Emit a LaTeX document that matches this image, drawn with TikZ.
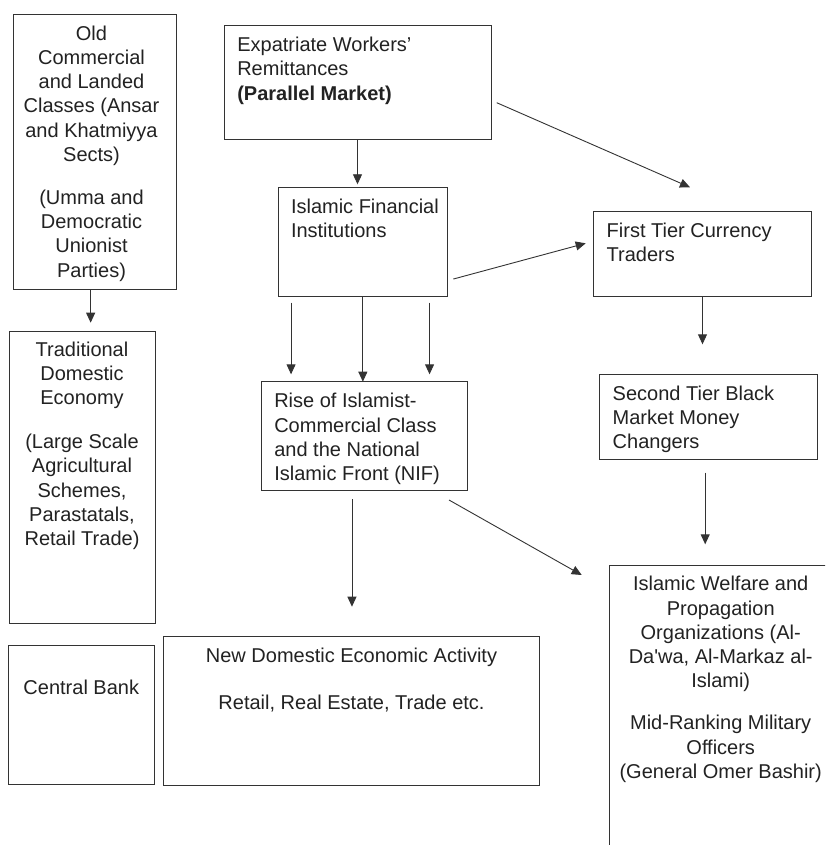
\documentclass[tikz,border=0pt]{standalone}
\usepackage{fontspec}
\setmainfont{Liberation Sans}
\usetikzlibrary{arrows.meta}
\definecolor{ink}{HTML}{222222}
\definecolor{edge}{HTML}{333333}
\tikzset{
  box/.style={draw=edge, line width=1pt, inner sep=0pt, outer sep=0pt, anchor=north west},
  txt/.style={inner sep=0pt, outer sep=0pt, text=ink, font={\fontsize{20}{24.3}\selectfont}},
  arr/.style={draw=edge, line width=0.9pt, -{Triangle[length=10pt,width=9pt]}},
}
\newcommand{\fs}{\rule{0pt}{15pt}}
\begin{document}
\begin{tikzpicture}[x=1pt,y=-1pt]
\useasboundingbox (0,0) rectangle (825,845);
\clip (0,0) rectangle (825,845);
\fill[white] (0,0) rectangle (825,845);

% boxes
\node[box, minimum width=162.7pt, minimum height=274.7pt] (old) at (13.3,14.3) {};
\node[box, minimum width=267pt, minimum height=114.4pt] (exp) at (224,25.3) {};
\node[box, minimum width=169.7pt, minimum height=108.7pt] (ifi) at (278,187.3) {};
\node[box, minimum width=218.4pt, minimum height=85pt] (ft) at (593.3,211.7) {};
\node[box, minimum width=146pt, minimum height=292.3pt] (trad) at (9.3,331) {};
\node[box, minimum width=206.3pt, minimum height=108.3pt] (rise) at (261,381.7) {};
\node[box, minimum width=218.4pt, minimum height=84.6pt] (st) at (599.3,374.7) {};
\node[box, minimum width=223pt, minimum height=300pt] (wel) at (609,565) {};
\node[box, minimum width=145.6pt, minimum height=139pt] (cb) at (8.7,645) {};
\node[box, minimum width=375.6pt, minimum height=149pt] (nd) at (163.7,636) {};

% texts
\node[txt, anchor=north, align=center] (oldt) at (91.5,25) {\fs Old\\Commercial\\and Landed\\Classes (Ansar\\and Khatmiyya\\Sects)\\[18.5pt](Umma and\\Democratic\\Unionist\\Parties)};
\node[txt, anchor=north west, align=left] (expt) at (237.3,36.6) {\fs Expatriate Workers'\\Remittances\\\textbf{(Parallel Market)}};
\node[txt, anchor=north west, align=left] (ifit) at (291,198.3) {\fs Islamic Financial\\Institutions};
\node[txt, anchor=north west, align=left] (ftt) at (606.7,222.3) {\fs First Tier Currency\\Traders};
\node[txt, anchor=north, align=center] (tradt) at (82,341) {\fs Traditional\\Domestic\\Economy\\[19.5pt](Large Scale\\Agricultural\\Schemes,\\Parastatals,\\Retail Trade)};
\node[txt, anchor=north west, align=left] (riset) at (274.3,392.7) {\fs Rise of Islamist-\\Commercial Class\\and the National\\Islamic Front (NIF)};
\node[txt, anchor=north west, align=left] (stt) at (612.7,385) {\fs Second Tier Black\\Market Money\\Changers};
\node[txt, anchor=north, align=center] (welt) at (720.7,575.7) {\fs Islamic Welfare and\\Propagation\\Organizations (Al-\\Da\textquotesingle wa, Al-Markaz al-\\Islami)\\[17.5pt]Mid-Ranking Military\\Officers\\(General Omer Bashir)};
\node[txt, anchor=north, align=center] (cbt) at (81.3,679.7) {\fs Central Bank};
\node[txt, anchor=north, align=center] (ndt) at (351.5,647.3) {\fs New Domestic Economic Activity\\[22.7pt]Retail, Real Estate, Trade etc.};

% connectors
\draw[arr, shorten >=8.3pt] ([xshift=-4pt]old.south) -- ([xshift=-4pt]old.south |- trad.north);
\draw[arr, shorten >=3pt] (exp.south) -- (exp.south |- ifi.north);
\draw[arr] ([xshift=5.7pt,yshift=-20.2pt]exp.east) -- ([xshift=-12.5pt,yshift=24.4pt]ft.north);
\draw[arr] ([xshift=5.6pt,yshift=-37.4pt]ifi.east) -- ([xshift=-7.6pt,yshift=10.9pt]ft.west);
\draw[arr, shorten <=6.5pt, shorten >=7.4pt] ([xshift=-71.8pt]ifi.south) -- ([xshift=-71.8pt]ifi.south |- rise.north);
\draw[arr] (ifi.south) -- (ifi.south |- rise.north);
\draw[arr, shorten <=6.5pt, shorten >=7.4pt] ([xshift=66.7pt]ifi.south) -- ([xshift=66.7pt]ifi.south |- rise.north);
\draw[arr, shorten >=30.4pt] (ft.south) -- (ft.south |- st.north);
\draw[arr, shorten <=13.4pt, shorten >=20.7pt] ([xshift=-3.3pt]st.south) -- ([xshift=-3.3pt]st.south |- wel.north);
\draw[arr, shorten <=9pt, shorten >=29.3pt] ([xshift=-12.2pt]rise.south) -- ([xshift=-12.2pt]rise.south |- nd.north);
\draw[arr] ([xshift=-18.3pt,yshift=-10pt]rise.south east) -- ([xshift=-27.3pt,yshift=-10pt]wel.north west);
\end{tikzpicture}
\end{document}
